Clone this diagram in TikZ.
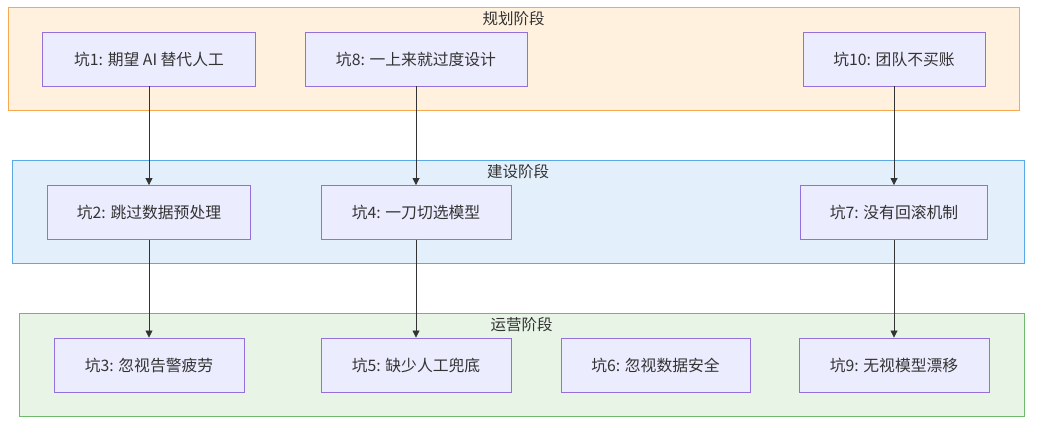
\documentclass[tikz,border=0pt]{standalone}
\usepackage{fontspec}
\setmainfont{Noto Sans CJK SC}
\usepackage{tikz}
\usetikzlibrary{arrows.meta}

\definecolor{txt}{HTML}{333333}
\definecolor{pitfill}{HTML}{ECECFF}
\definecolor{pitline}{HTML}{9370DB}
\definecolor{planfill}{HTML}{FFF1DE}
\definecolor{planline}{HTML}{F7A850}
\definecolor{buildfill}{HTML}{E3F0FC}
\definecolor{buildline}{HTML}{5AA9E6}
\definecolor{runfill}{HTML}{E7F4E6}
\definecolor{runline}{HTML}{72B970}

\begin{document}
\begin{tikzpicture}[x=1pt,y=-1pt,>={Triangle[length=7pt,width=7pt]},
    pit/.style={draw=pitline,fill=pitfill,line width=0.9pt,rectangle,minimum height=54pt,
        text=txt,font=\fontsize{15.8}{18}\selectfont,inner sep=0pt},
    stage/.style={text=txt,font=\fontsize{15.5}{18}\selectfont},
    flow/.style={draw=txt,line width=0.8pt,->}]
            \useasboundingbox (0,0) rectangle (1040,428);
            % stages
            \draw [draw=planline,fill=planfill,line width=1pt] (8,8) rectangle (1019,110);
            \draw [draw=buildline,fill=buildfill,line width=1pt] (12,160) rectangle (1024,263);
            \draw [draw=runline,fill=runfill,line width=1pt] (19,313) rectangle (1024,416);
            \node [stage] (plan) at (513.5,19) {规划阶段};
            \node [stage] (build) at (518,172) {建设阶段};
            \node [stage] (run) at (521.5,325) {运营阶段};
            % pitfalls
            \node [pit,minimum width=213pt] (p1) at (149,59) {坑1: 期望 AI 替代人工};
            \node [pit,minimum width=222pt] (p8) at (416,59) {坑8: 一上来就过度设计};
            \node [pit,minimum width=182pt] (p10) at (894,59) {坑10: 团队不买账};
            \node [pit,minimum width=203pt] (p2) at (149,212.5) {坑2: 跳过数据预处理};
            \node [pit,minimum width=190pt] (p4) at (416,212.5) {坑4: 一刀切选模型};
            \node [pit,minimum width=187pt] (p7) at (894,212.5) {坑7: 没有回滚机制};
            \node [pit,minimum width=190pt] (p3) at (149,365) {坑3: 忽视告警疲劳};
            \node [pit,minimum width=190pt] (p5) at (416,365) {坑5: 缺少人工兜底};
            \node [pit,minimum width=189pt] (p6) at (655.5,365) {坑6: 忽视数据安全};
            \node [pit,minimum width=190pt] (p9) at (894,365) {坑9: 无视模型漂移};
            % links
            \draw [flow] (p1) -- (p2);
            \draw [flow] (p2) -- (p3);
            \draw [flow] (p8) -- (p4);
            \draw [flow] (p4) -- (p5);
            \draw [flow] (p10) -- (p7);
            \draw [flow] (p7) -- (p9);
        \end{tikzpicture}
\end{document}
